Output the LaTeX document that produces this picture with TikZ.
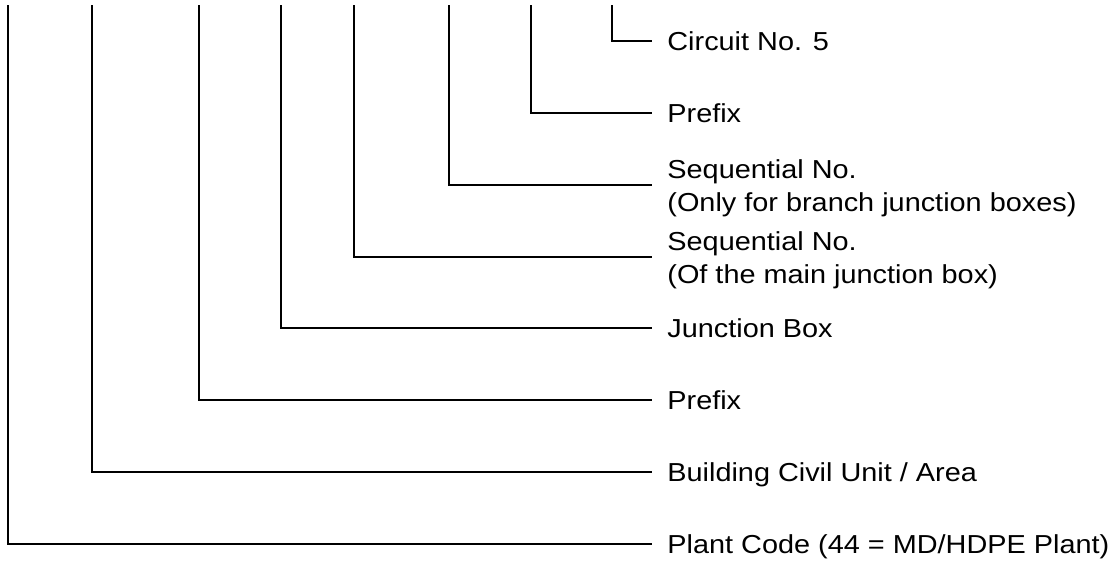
\documentclass[tikz,border=0pt]{standalone}
\usepackage{fontspec}
\setmainfont{Liberation Sans}[FakeStretch=1.11]
\usepackage{tikz}
\usetikzlibrary{positioning}

\newcommand\tagfont{\fontsize{13}{16.5}\selectfont}

\tikzset{
    lead/.style={line width=0.85pt},
    tag/.style={anchor=west, inner xsep=7.5pt, inner ysep=0pt,
        font=\tagfont, text height=9.3pt, text depth=0pt},
    tagtwo/.style={anchor=west, inner xsep=7.5pt, inner ysep=0pt,
        font=\tagfont, align=left, yshift=-1.6pt},
}

\begin{document}
\begin{tikzpicture}[x=0.5pt, y=-0.5pt]
    \useasboundingbox (0,0) rectangle (1119,562);

    % tops of the leads
    \coordinate (circ-top)  at (612,5);
    \coordinate (pfxa-top)  at (531,5);
    \coordinate (seqb-top)  at (449,5);
    \coordinate (seqm-top)  at (354,5);
    \coordinate (jbox-top)  at (281,5);
    \coordinate (pfxb-top)  at (199,5);
    \coordinate (bldg-top)  at (92,5);
    \coordinate (plant-top) at (8,5);

    % labels
    \node[tag]    (circ)  at (652,41)  {Circuit No. 5};
    \node[tag]    (pfxa)  at (652,113) {Prefix};
    \node[tagtwo] (seqb)  at (652,185) {Sequential No.\\(Only for branch junction boxes)};
    \node[tagtwo] (seqm)  at (652,257) {Sequential No.\\(Of the main junction box)};
    \node[tag]    (jbox)  at (652,328) {Junction Box};
    \node[tag]    (pfxb)  at (652,400) {Prefix};
    \node[tag]    (bldg)  at (652,472) {Building Civil Unit / Area};
    \node[tag]    (plant) at (652,544) {Plant Code (44 = MD/HDPE Plant)};

    % leads
    \foreach \n in {circ,pfxa,jbox,pfxb,bldg,plant}
        \draw[lead] (\n-top) |- (\n.west);
    \foreach \n in {seqb,seqm}
        \draw[lead] (\n-top) |- ([yshift=1.6pt]\n.west);
\end{tikzpicture}
\end{document}
